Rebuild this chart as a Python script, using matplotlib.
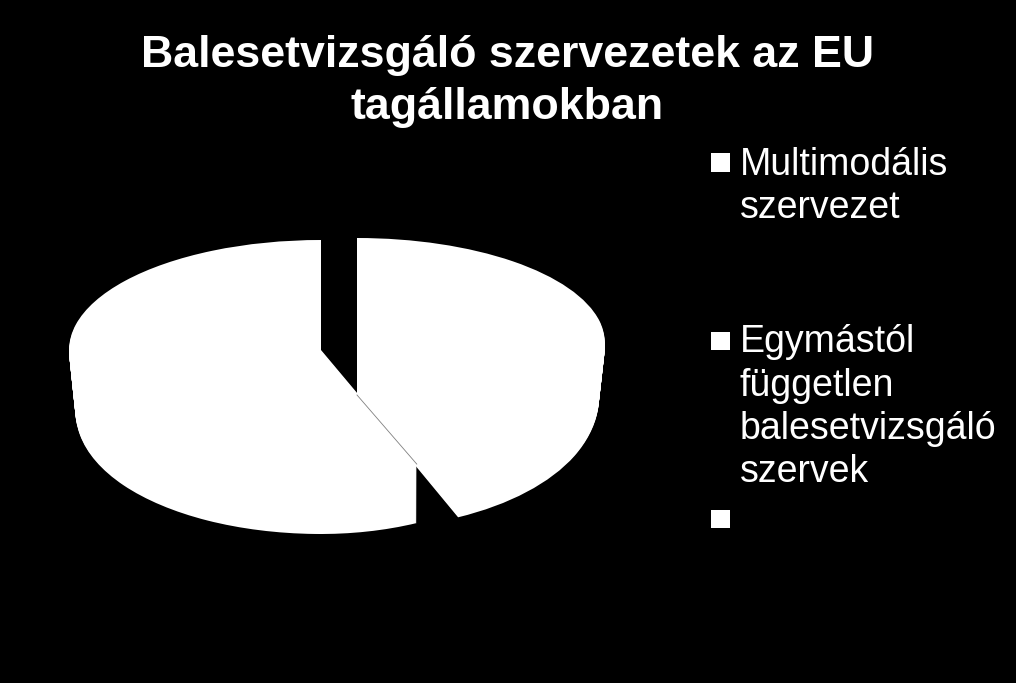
import math
import matplotlib
matplotlib.use("Agg")
import matplotlib.pyplot as plt
from matplotlib.patches import PathPatch
from matplotlib.path import Path

title_lines = ["Balesetvizsgáló szervezetek az EU", "tagállamokban"]
shares = [43.3, 56.7, 0]
legend_labels = [
    ["Multimodális", "szervezet"],
    ["Egymástól", "független", "balesetvizsgáló", "szervek"],
    [],
]

plt.rcParams["font.family"] = ["Liberation Sans", "DejaVu Sans"]

fig = plt.figure(figsize=(10.16, 6.83), dpi=100, facecolor="black")
ax = fig.add_axes([0, 0, 1, 1])

# one tuple per drawn slice: centre x, centre y, rx, right side scale, back ry, front ry, depth
slice_geom = [
    (357, 343, 248, 1.0, 105, 134, 52),
    (321, 350, 252, 0.93, 110, 125, 59),
]


def squash(path, geom, shift):
    cx, cy, rx, right, ry_back, ry_front, depth = geom
    verts = []
    for x, y in path.vertices:
        ry = ry_back if y > 0 else ry_front
        taper = 1 - 0.028 * shift / depth * (1 - abs(y))
        sx = right if x > 0 else 1
        verts.append((cx + x * rx * sx * taper, cy - y * ry + shift))
    return Path(verts, path.codes)


start = 90
patches = []
for share, geom in zip(shares, slice_geom):
    wedges, _ = ax.pie([share / 100], startangle=start, counterclock=False,
                       normalize=False)
    path = wedges[0].get_path()
    wedges[0].remove()
    start -= share * 3.6
    for d in range(geom[-1] + 1):
        patches.append(PathPatch(squash(path, geom, d), facecolor="white",
                                 edgecolor="none", lw=0))

for p in patches:
    ax.add_patch(p)

# thin grey seam where the two slices touch
cut = math.radians(90 - shares[0] * 3.6)
r_geom, l_geom = slice_geom
seam_x = [r_geom[0], l_geom[0] + math.cos(cut) * l_geom[2] * l_geom[3]]
seam_y = [r_geom[1] + r_geom[-1], l_geom[1] - math.sin(cut) * l_geom[5]]
ax.plot(seam_x, seam_y, color="#808080", lw=0.6)

ax.set_aspect("auto")
ax.set_xlim(0, 1016)
ax.set_ylim(683, 0)
ax.axis("off")

# title
ax.text(507.5, 67, title_lines[0], color="white", fontsize=32.2, fontweight="bold",
        ha="center", va="baseline")
ax.text(507.5, 119, title_lines[1], color="white", fontsize=32.2, fontweight="bold",
        ha="center", va="baseline")

# legend, spacing is uneven in the original so it is placed by hand
square_tops = [153, 331.5, 509.5]
first_baselines = [175, 352.5, 530]
for lines, top, base in zip(legend_labels, square_tops, first_baselines):
    ax.fill_between([711, 730], top, top + 18.5, color="white", lw=0)
    for i, line in enumerate(lines):
        ax.text(740, base + i * 43.2, line, color="white", fontsize=27,
                ha="left", va="baseline")

fig.savefig("out.png", dpi=100, facecolor="black")
